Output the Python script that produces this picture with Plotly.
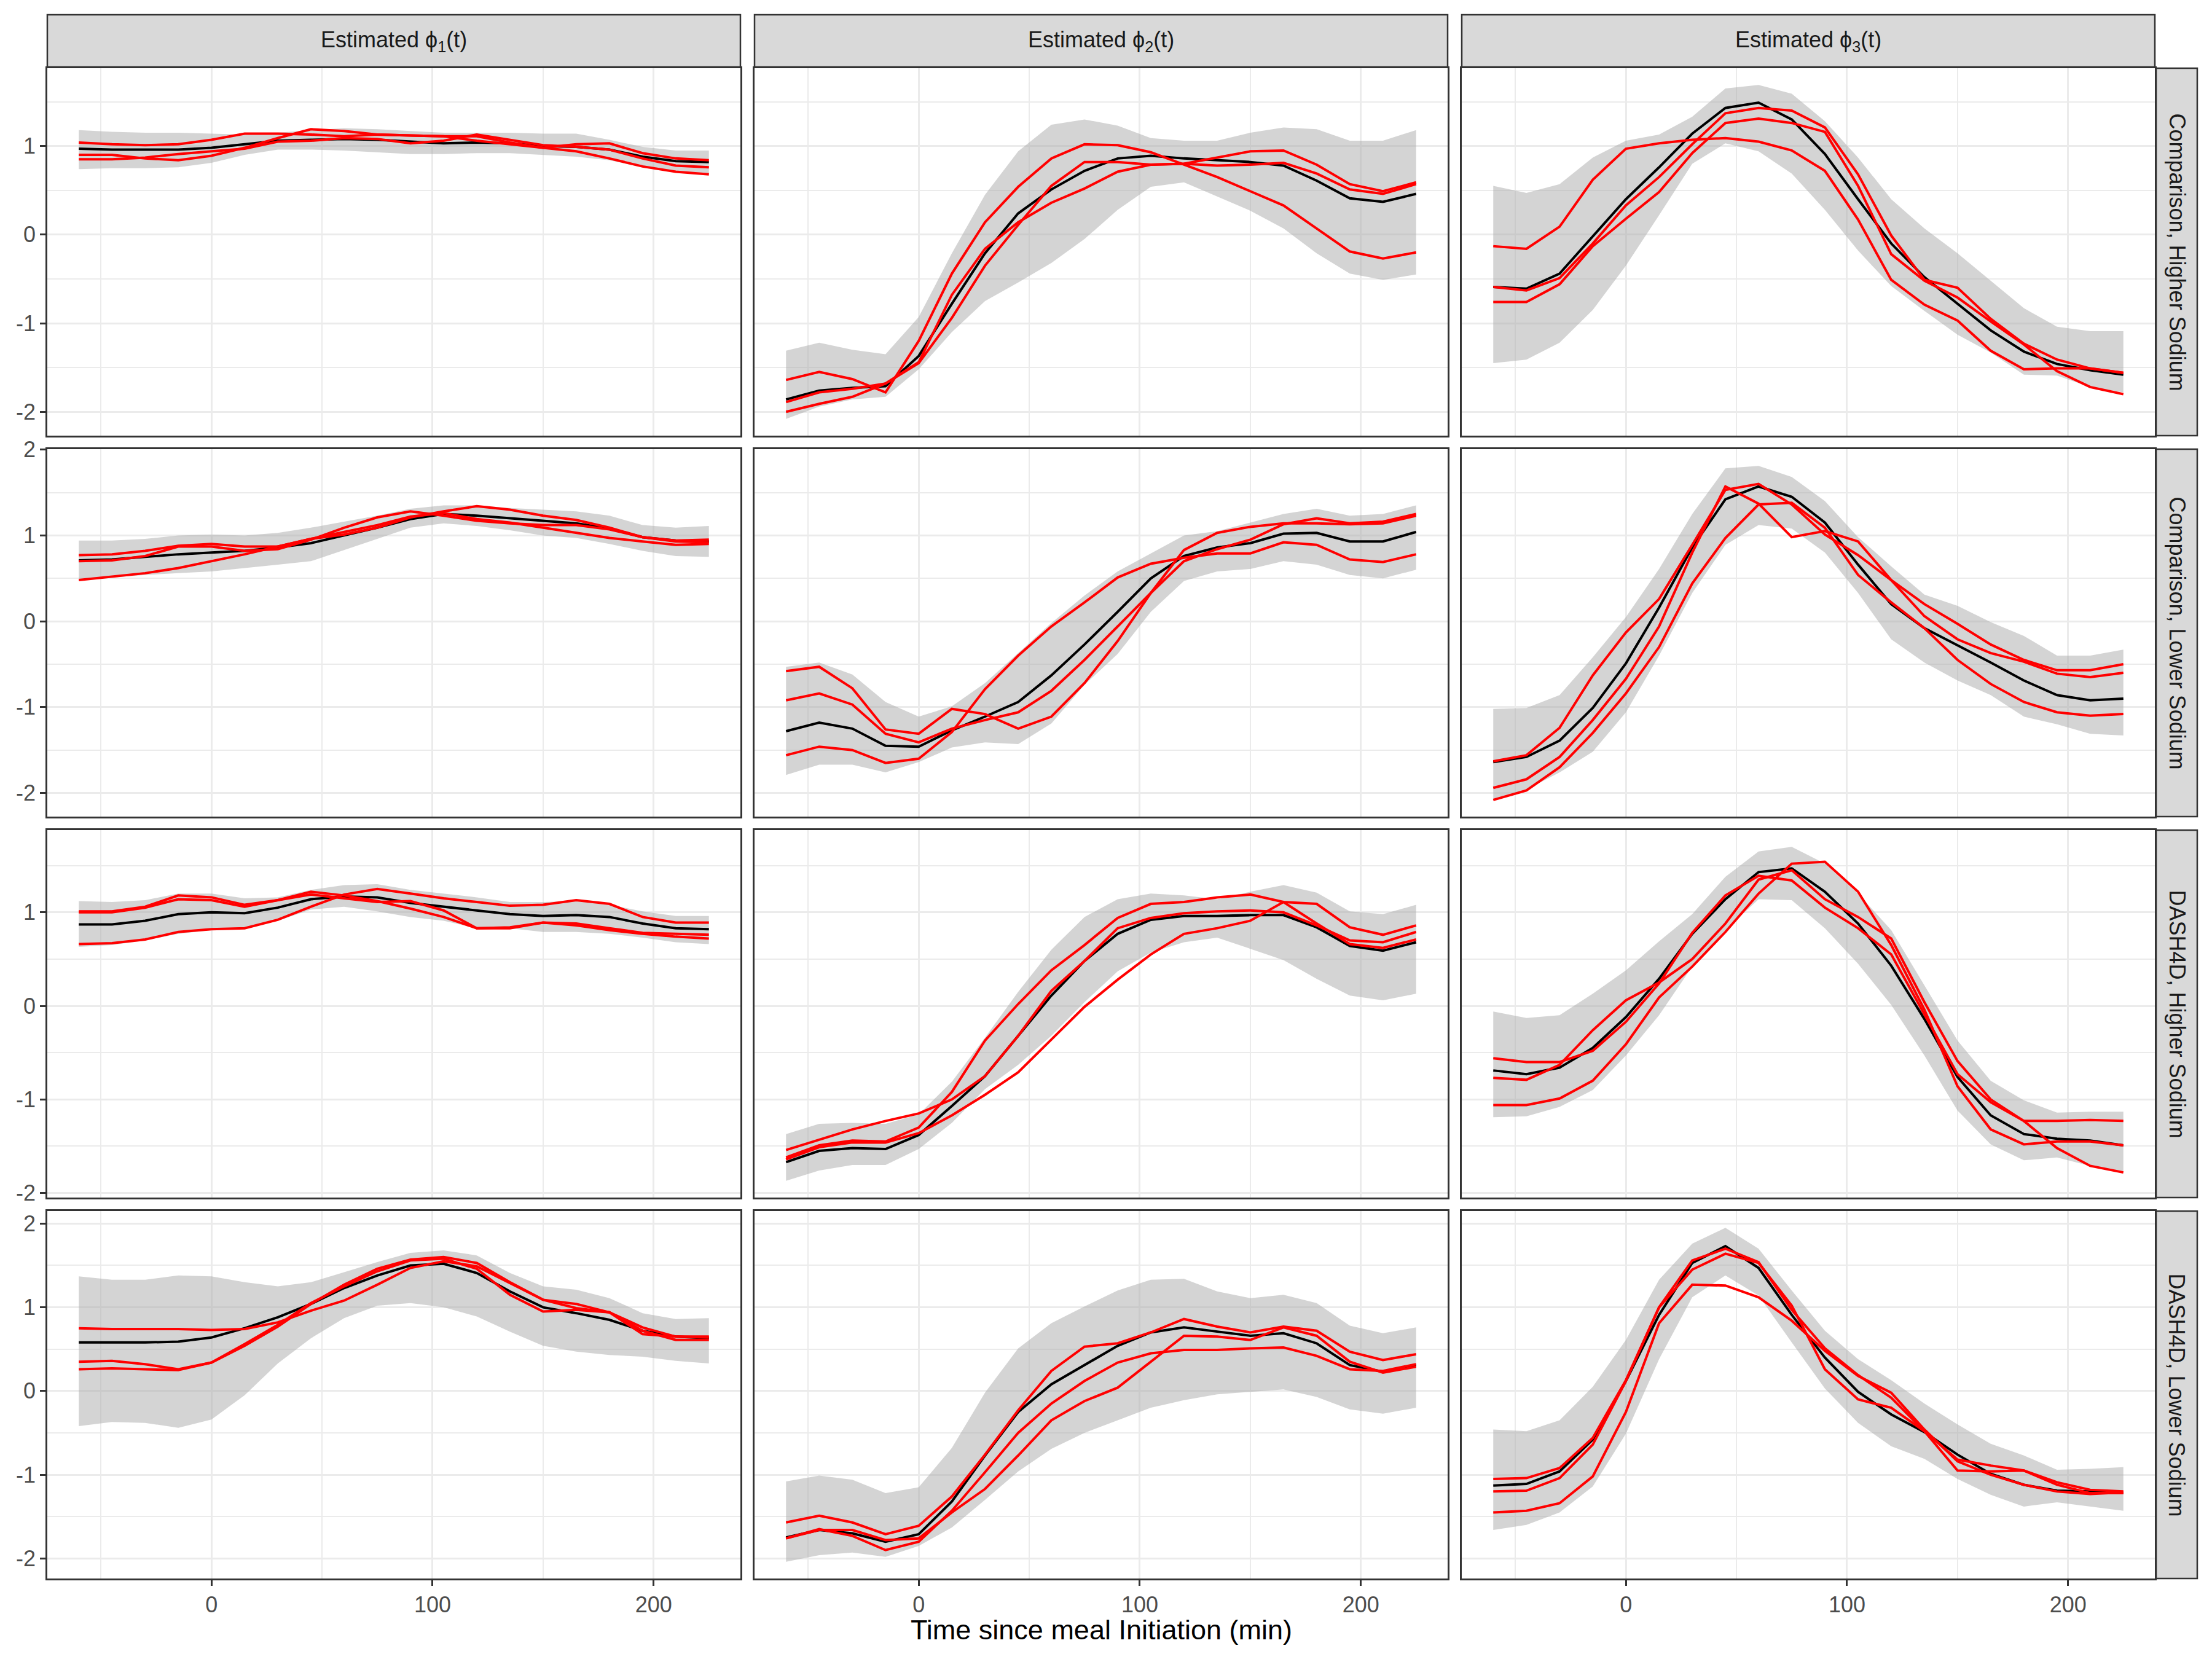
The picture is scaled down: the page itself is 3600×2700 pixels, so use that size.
import plotly.graph_objects as go

# ---------------- data ----------------
times = [-60, -45, -30, -15, 0, 15, 30, 45, 60, 75, 90, 105, 120, 135, 150, 165, 180, 195, 210, 225]
col_titles = ["Estimated ϕ<sub>1</sub>(t)", "Estimated ϕ<sub>2</sub>(t)", "Estimated ϕ<sub>3</sub>(t)"]
row_titles = ["Comparison, Higher Sodium", "Comparison, Lower Sodium",
              "DASH4D, Higher Sodium", "DASH4D, Lower Sodium"]
x_ticks = [0, 100, 200]
y_ticks = [-2, -1, 0, 1, 2]
x_title = "Time since meal Initiation (min)"

# Row 1: Comparison, Higher Sodium
r1c1_mean = [0.97,0.96,0.96,0.96,0.98,1.02,1.06,1.07,1.08,1.07,1.05,1.03,1.04,1.03,1.00,0.99,0.96,0.88,0.83,0.82]
r1c1_hi = [1.18,1.16,1.15,1.15,1.14,1.13,1.15,1.18,1.20,1.19,1.17,1.15,1.15,1.15,1.14,1.14,1.07,0.99,0.95,0.95]
r1c1_lo = [0.74,0.75,0.75,0.76,0.81,0.90,0.96,0.96,0.95,0.93,0.91,0.91,0.92,0.92,0.90,0.88,0.84,0.76,0.71,0.68]
r1c1_a = [1.04,1.02,1.01,1.02,1.07,1.14,1.14,1.13,1.11,1.13,1.12,1.11,1.06,1.02,0.98,0.94,0.86,0.77,0.71,0.68]
r1c1_b = [0.90,0.90,0.86,0.84,0.89,0.98,1.09,1.19,1.17,1.13,1.12,1.11,1.11,1.04,0.98,1.02,1.03,0.92,0.86,0.84]
r1c1_c = [0.85,0.85,0.87,0.91,0.94,0.97,1.05,1.06,1.09,1.08,1.03,1.06,1.13,1.07,1.01,0.99,0.96,0.86,0.78,0.76]

r1c2_mean = [-1.86,-1.76,-1.73,-1.71,-1.37,-0.78,-0.21,0.24,0.51,0.72,0.86,0.89,0.86,0.84,0.82,0.78,0.61,0.41,0.37,0.46]
r1c2_hi = [-1.31,-1.22,-1.30,-1.35,-0.93,-0.21,0.45,0.94,1.24,1.30,1.23,1.09,1.06,1.06,1.15,1.21,1.19,1.06,1.06,1.18]
r1c2_lo = [-2.08,-1.94,-1.86,-1.83,-1.52,-1.10,-0.75,-0.54,-0.32,-0.05,0.28,0.54,0.59,0.43,0.27,0.07,-0.21,-0.44,-0.51,-0.45]
r1c2_a = [-1.64,-1.55,-1.63,-1.78,-1.20,-0.44,0.14,0.54,0.86,1.02,1.01,0.93,0.79,0.65,0.49,0.33,0.07,-0.19,-0.27,-0.20]
r1c2_b = [-1.89,-1.78,-1.74,-1.68,-1.45,-0.94,-0.35,0.11,0.55,0.82,0.82,0.79,0.80,0.78,0.79,0.81,0.69,0.51,0.46,0.57]
r1c2_c = [-2.00,-1.91,-1.83,-1.68,-1.44,-0.68,-0.16,0.14,0.36,0.52,0.71,0.79,0.80,0.87,0.94,0.95,0.79,0.57,0.49,0.59]

r1c3_mean = [-0.59,-0.61,-0.44,-0.02,0.40,0.76,1.14,1.43,1.49,1.30,0.91,0.40,-0.10,-0.48,-0.78,-1.08,-1.32,-1.46,-1.53,-1.58]
r1c3_hi = [0.55,0.47,0.57,0.87,1.06,1.13,1.33,1.65,1.69,1.59,1.28,0.87,0.40,0.07,-0.21,-0.52,-0.83,-1.04,-1.09,-1.09]
r1c3_lo = [-1.45,-1.41,-1.22,-0.85,-0.35,0.22,0.80,1.03,0.94,0.69,0.28,-0.18,-0.58,-0.86,-1.13,-1.33,-1.58,-1.59,-1.72,-1.78]
r1c3_a = [-0.13,-0.16,0.09,0.62,0.97,1.03,1.07,1.09,1.05,0.95,0.72,0.17,-0.51,-0.79,-0.97,-1.31,-1.52,-1.51,-1.51,-1.56]
r1c3_b = [-0.59,-0.63,-0.49,-0.10,0.33,0.65,1.02,1.37,1.43,1.40,1.21,0.68,-0.01,-0.51,-0.60,-0.95,-1.23,-1.41,-1.51,-1.56]
r1c3_c = [-0.76,-0.76,-0.56,-0.13,0.18,0.48,0.92,1.26,1.31,1.26,1.16,0.55,-0.22,-0.52,-0.71,-0.98,-1.24,-1.54,-1.72,-1.80]

# Row 2: Comparison, Lower Sodium
r2c1_mean = [0.71,0.72,0.75,0.78,0.80,0.82,0.86,0.91,1.00,1.09,1.19,1.25,1.23,1.20,1.17,1.14,1.08,0.98,0.94,0.93]
r2c1_hi = [0.94,0.94,0.96,1.00,1.01,1.00,1.03,1.09,1.16,1.23,1.31,1.35,1.35,1.32,1.30,1.28,1.23,1.12,1.09,1.11]
r2c1_lo = [0.49,0.51,0.54,0.56,0.58,0.62,0.66,0.70,0.83,0.96,1.09,1.14,1.11,1.06,1.00,0.97,0.90,0.82,0.76,0.75]
r2c1_a = [0.77,0.78,0.82,0.88,0.90,0.87,0.87,0.96,1.01,1.09,1.21,1.28,1.34,1.30,1.23,1.18,1.09,0.98,0.94,0.95]
r2c1_b = [0.70,0.71,0.76,0.87,0.87,0.82,0.84,0.95,1.09,1.21,1.28,1.23,1.17,1.14,1.12,1.12,1.07,0.98,0.93,0.92]
r2c1_c = [0.48,0.52,0.56,0.62,0.70,0.78,0.87,0.96,1.04,1.12,1.22,1.26,1.19,1.15,1.09,1.03,0.97,0.93,0.89,0.90]

r2c2_mean = [-1.28,-1.18,-1.25,-1.45,-1.46,-1.27,-1.11,-0.94,-0.63,-0.27,0.11,0.50,0.76,0.86,0.91,1.02,1.03,0.93,0.93,1.04]
r2c2_hi = [-0.53,-0.48,-0.62,-0.94,-1.11,-0.99,-0.72,-0.37,-0.02,0.30,0.58,0.79,1.00,1.05,1.15,1.25,1.31,1.23,1.25,1.35]
r2c2_lo = [-1.79,-1.67,-1.67,-1.76,-1.64,-1.47,-1.41,-1.43,-1.19,-0.74,-0.38,0.11,0.47,0.58,0.61,0.70,0.66,0.54,0.50,0.60]
r2c2_a = [-0.58,-0.53,-0.78,-1.26,-1.31,-1.02,-1.08,-1.25,-1.11,-0.72,-0.23,0.33,0.83,1.03,1.10,1.14,1.14,1.13,1.14,1.23]
r2c2_b = [-0.92,-0.84,-0.97,-1.31,-1.41,-1.25,-1.15,-1.06,-0.81,-0.45,-0.06,0.33,0.70,0.84,0.95,1.13,1.20,1.14,1.16,1.25]
r2c2_c = [-1.56,-1.46,-1.50,-1.65,-1.60,-1.29,-0.79,-0.40,-0.06,0.22,0.51,0.67,0.74,0.79,0.79,0.92,0.89,0.72,0.69,0.78]

r2c3_mean = [-1.64,-1.58,-1.39,-1.01,-0.49,0.16,0.86,1.42,1.57,1.45,1.15,0.66,0.20,-0.08,-0.28,-0.48,-0.69,-0.86,-0.92,-0.90]
r2c3_hi = [-1.02,-1.01,-0.86,-0.42,0.05,0.61,1.25,1.78,1.81,1.68,1.40,0.98,0.64,0.31,0.18,-0.01,-0.17,-0.40,-0.40,-0.33]
r2c3_lo = [-2.07,-1.96,-1.76,-1.52,-1.06,-0.40,0.33,0.89,1.12,1.08,0.80,0.33,-0.21,-0.48,-0.69,-0.86,-1.11,-1.20,-1.31,-1.33]
r2c3_a = [-1.63,-1.56,-1.24,-0.63,-0.13,0.26,0.89,1.53,1.60,1.36,1.01,0.77,0.48,0.20,-0.03,-0.27,-0.45,-0.57,-0.57,-0.50]
r2c3_b = [-1.94,-1.84,-1.58,-1.15,-0.67,-0.06,0.80,1.57,1.37,0.98,1.05,0.93,0.48,0.06,-0.21,-0.37,-0.47,-0.61,-0.65,-0.60]
r2c3_c = [-2.08,-1.97,-1.70,-1.30,-0.84,-0.30,0.44,0.97,1.36,1.38,1.09,0.54,0.22,-0.08,-0.45,-0.73,-0.94,-1.06,-1.10,-1.08]

# Row 3: DASH4D, Higher Sodium
r3c1_mean = [0.87,0.87,0.91,0.98,1.00,0.99,1.05,1.14,1.17,1.16,1.10,1.06,1.02,0.98,0.96,0.97,0.95,0.88,0.83,0.82]
r3c1_hi = [1.12,1.11,1.13,1.20,1.20,1.15,1.16,1.24,1.29,1.30,1.24,1.20,1.16,1.11,1.11,1.12,1.08,1.01,0.96,0.96]
r3c1_lo = [0.63,0.65,0.70,0.77,0.81,0.83,0.91,1.03,1.06,1.01,0.95,0.91,0.83,0.83,0.79,0.79,0.77,0.73,0.68,0.66]
r3c1_a = [1.01,1.01,1.06,1.18,1.16,1.08,1.13,1.22,1.18,1.12,1.04,0.95,0.83,0.83,0.89,0.88,0.83,0.78,0.77,0.76]
r3c1_b = [1.00,1.00,1.05,1.14,1.13,1.06,1.13,1.19,1.15,1.11,1.12,1.02,0.83,0.84,0.89,0.86,0.81,0.77,0.74,0.72]
r3c1_c = [0.66,0.67,0.71,0.79,0.82,0.83,0.92,1.06,1.19,1.25,1.20,1.15,1.11,1.07,1.08,1.13,1.09,0.95,0.89,0.89]

r3c2_mean = [-1.67,-1.55,-1.52,-1.53,-1.38,-1.07,-0.75,-0.32,0.11,0.48,0.77,0.92,0.96,0.96,0.97,0.97,0.84,0.64,0.59,0.68]
r3c2_hi = [-1.37,-1.26,-1.25,-1.26,-1.16,-0.81,-0.34,0.15,0.60,0.95,1.14,1.20,1.18,1.14,1.22,1.29,1.21,1.01,0.98,1.08]
r3c2_lo = [-1.87,-1.76,-1.70,-1.70,-1.53,-1.25,-0.89,-0.63,-0.32,0.04,0.37,0.57,0.68,0.73,0.61,0.49,0.29,0.11,0.06,0.13]
r3c2_a = [-1.54,-1.43,-1.32,-1.23,-1.15,-1.00,-0.75,-0.32,0.16,0.48,0.83,0.94,0.99,1.01,1.02,1.00,0.86,0.70,0.68,0.79]
r3c2_b = [-1.62,-1.49,-1.44,-1.45,-1.30,-0.92,-0.37,0.02,0.38,0.65,0.94,1.09,1.11,1.16,1.19,1.11,1.09,0.84,0.76,0.86]
r3c2_c = [-1.64,-1.51,-1.46,-1.46,-1.36,-1.17,-0.95,-0.71,-0.36,-0.01,0.28,0.55,0.77,0.83,0.91,1.11,0.88,0.66,0.62,0.71]

r3c3_mean = [-0.69,-0.73,-0.66,-0.45,-0.12,0.29,0.77,1.14,1.43,1.47,1.22,0.88,0.43,-0.14,-0.76,-1.17,-1.37,-1.42,-1.44,-1.49]
r3c3_hi = [-0.06,-0.13,-0.10,0.13,0.38,0.69,0.98,1.38,1.65,1.70,1.52,1.20,0.81,0.22,-0.37,-0.80,-1.01,-1.14,-1.13,-1.13]
r3c3_lo = [-1.19,-1.18,-1.08,-0.90,-0.53,-0.10,0.42,0.81,1.14,1.13,0.83,0.45,0.01,-0.53,-1.12,-1.48,-1.65,-1.62,-1.71,-1.78]
r3c3_a = [-0.56,-0.60,-0.60,-0.48,-0.17,0.24,0.78,1.18,1.39,1.34,1.05,0.83,0.55,-0.09,-0.73,-1.03,-1.23,-1.52,-1.71,-1.78]
r3c3_b = [-0.77,-0.79,-0.63,-0.26,0.06,0.25,0.50,0.88,1.35,1.45,1.14,0.95,0.72,0.04,-0.59,-1.00,-1.23,-1.23,-1.22,-1.23]
r3c3_c = [-1.06,-1.06,-0.99,-0.80,-0.41,0.09,0.42,0.79,1.20,1.52,1.54,1.22,0.65,-0.04,-0.86,-1.32,-1.48,-1.45,-1.45,-1.49]

# Row 4: DASH4D, Lower Sodium
r4c1_mean = [0.58,0.58,0.58,0.59,0.64,0.75,0.88,1.04,1.23,1.38,1.50,1.52,1.41,1.19,1.00,0.93,0.85,0.72,0.65,0.63]
r4c1_hi = [1.37,1.33,1.33,1.38,1.37,1.30,1.25,1.30,1.42,1.54,1.65,1.68,1.62,1.41,1.25,1.21,1.11,0.93,0.86,0.87]
r4c1_lo = [-0.42,-0.37,-0.38,-0.44,-0.34,-0.05,0.33,0.63,0.87,1.02,1.05,1.00,0.89,0.71,0.54,0.47,0.43,0.41,0.36,0.33]
r4c1_a = [0.75,0.74,0.74,0.74,0.73,0.74,0.82,0.96,1.08,1.27,1.47,1.55,1.49,1.29,1.09,1.04,0.94,0.76,0.65,0.64]
r4c1_b = [0.35,0.36,0.32,0.26,0.34,0.54,0.77,1.04,1.27,1.46,1.57,1.60,1.53,1.30,1.09,0.99,0.94,0.72,0.61,0.61]
r4c1_c = [0.26,0.27,0.26,0.25,0.34,0.56,0.79,1.05,1.25,1.43,1.56,1.58,1.46,1.15,0.95,0.97,0.94,0.68,0.65,0.65]

r4c2_mean = [-1.75,-1.66,-1.70,-1.80,-1.71,-1.32,-0.77,-0.25,0.08,0.31,0.54,0.70,0.76,0.71,0.66,0.69,0.57,0.31,0.23,0.31]
r4c2_hi = [-1.08,-1.01,-1.06,-1.22,-1.15,-0.68,-0.02,0.51,0.81,1.01,1.20,1.33,1.34,1.19,1.11,1.15,1.05,0.78,0.69,0.76]
r4c2_lo = [-2.04,-1.96,-1.93,-1.98,-1.85,-1.63,-1.30,-0.96,-0.69,-0.50,-0.35,-0.20,-0.11,-0.04,-0.01,0.02,-0.07,-0.22,-0.27,-0.20]
r4c2_a = [-1.57,-1.49,-1.57,-1.71,-1.61,-1.26,-0.76,-0.23,0.24,0.53,0.57,0.70,0.86,0.77,0.70,0.77,0.72,0.47,0.37,0.44]
r4c2_b = [-1.76,-1.65,-1.73,-1.90,-1.80,-1.43,-0.97,-0.50,-0.15,0.12,0.34,0.45,0.49,0.49,0.51,0.52,0.42,0.26,0.24,0.32]
r4c2_c = [-1.76,-1.66,-1.66,-1.78,-1.76,-1.45,-1.17,-0.77,-0.35,-0.12,0.04,0.35,0.66,0.65,0.61,0.76,0.66,0.35,0.22,0.29]

r4c3_mean = [-1.13,-1.11,-0.96,-0.58,0.12,0.91,1.53,1.73,1.47,0.91,0.40,-0.01,-0.28,-0.49,-0.76,-0.99,-1.12,-1.19,-1.20,-1.22]
r4c3_hi = [-0.46,-0.48,-0.35,0.05,0.61,1.33,1.76,1.95,1.70,1.20,0.72,0.38,0.13,-0.15,-0.40,-0.63,-0.77,-0.94,-0.93,-0.91]
r4c3_lo = [-1.66,-1.60,-1.45,-1.14,-0.51,0.38,1.12,1.38,1.14,0.58,0.03,-0.38,-0.66,-0.81,-1.05,-1.24,-1.38,-1.33,-1.38,-1.43]
r4c3_a = [-1.05,-1.04,-0.92,-0.56,0.13,1.00,1.56,1.70,1.54,0.97,0.51,0.19,-0.08,-0.48,-0.82,-0.89,-0.95,-1.09,-1.18,-1.20]
r4c3_b = [-1.20,-1.19,-1.04,-0.64,0.12,1.00,1.45,1.64,1.53,1.02,0.26,-0.10,-0.20,-0.48,-0.95,-0.96,-0.95,-1.12,-1.22,-1.22]
r4c3_c = [-1.45,-1.43,-1.34,-1.02,-0.25,0.81,1.27,1.26,1.12,0.84,0.48,0.18,-0.02,-0.46,-0.84,-1.00,-1.12,-1.20,-1.23,-1.21]

panels = [
    [(r1c1_lo, r1c1_hi, r1c1_mean, [r1c1_a, r1c1_b, r1c1_c]),
     (r1c2_lo, r1c2_hi, r1c2_mean, [r1c2_a, r1c2_b, r1c2_c]),
     (r1c3_lo, r1c3_hi, r1c3_mean, [r1c3_a, r1c3_b, r1c3_c])],
    [(r2c1_lo, r2c1_hi, r2c1_mean, [r2c1_a, r2c1_b, r2c1_c]),
     (r2c2_lo, r2c2_hi, r2c2_mean, [r2c2_a, r2c2_b, r2c2_c]),
     (r2c3_lo, r2c3_hi, r2c3_mean, [r2c3_a, r2c3_b, r2c3_c])],
    [(r3c1_lo, r3c1_hi, r3c1_mean, [r3c1_a, r3c1_b, r3c1_c]),
     (r3c2_lo, r3c2_hi, r3c2_mean, [r3c2_a, r3c2_b, r3c2_c]),
     (r3c3_lo, r3c3_hi, r3c3_mean, [r3c3_a, r3c3_b, r3c3_c])],
    [(r4c1_lo, r4c1_hi, r4c1_mean, [r4c1_a, r4c1_b, r4c1_c]),
     (r4c2_lo, r4c2_hi, r4c2_mean, [r4c2_a, r4c2_b, r4c2_c]),
     (r4c3_lo, r4c3_hi, r4c3_mean, [r4c3_a, r4c3_b, r4c3_c])],
]

# ---------------- layout geometry (pixels, page coordinates) ----------------
W, H = 3600, 2700
OFF = 8  # page body margin compensation
col_px = [(77, 1205), (1228, 2356), (2379, 3507)]
row_px = [(111, 709), (731, 1329), (1351, 1949), (1971, 2569)]
strip_top = (24, 109)
strip_right = (3509, 3576)

FONT = "Liberation Sans"
GRID = "#EBEBEB"
BORDER = "#333333"

def px_x(v):
    return (v - OFF) / W

def px_y(v):
    return 1 - (v - OFF) / H

xmin, xmax = min(times), max(times)
xpad = 0.05 * (xmax - xmin)
x_range = [xmin - xpad, xmax + xpad]

fig = go.Figure()
shapes = []
annotations = []

for r in range(4):
    vals = []
    for c in range(3):
        lo, hi, mean, reds = panels[r][c]
        vals += lo + hi + mean + sum(reds, [])
    ymin, ymax = min(vals), max(vals)
    ypad = 0.05 * (ymax - ymin)
    y_range = [ymin - ypad, ymax + ypad]

    for c in range(3):
        k = r * 3 + c + 1
        xa = "x" if k == 1 else f"x{k}"
        ya = "y" if k == 1 else f"y{k}"
        lo, hi, mean, reds = panels[r][c]

        fig.add_trace(go.Scatter(
            x=times + times[::-1], y=hi + lo[::-1], fill="toself",
            fillcolor="rgba(170,170,170,0.5)", line=dict(width=0, color="rgba(0,0,0,0)"),
            mode="lines", hoverinfo="skip", xaxis=xa, yaxis=ya, showlegend=False))
        fig.add_trace(go.Scatter(
            x=times, y=mean, mode="lines", line=dict(color="black", width=4),
            xaxis=xa, yaxis=ya, showlegend=False))
        for red in reds:
            fig.add_trace(go.Scatter(
                x=times, y=red, mode="lines", line=dict(color="#FF0000", width=4),
                xaxis=xa, yaxis=ya, showlegend=False))

        x0, x1 = col_px[c]
        y0, y1 = row_px[r]
        bottom = (r == 3)
        left = (c == 0)
        xaxis = dict(
            domain=[px_x(x0), px_x(x1)], anchor=ya, range=x_range, automargin=False,
            tickmode="array", tickvals=x_ticks, ticktext=[str(t) for t in x_ticks],
            showticklabels=bottom, ticks="outside" if bottom else "",
            ticklen=9, tickwidth=2.5, tickcolor=BORDER,
            tickfont=dict(family=FONT, size=36, color="#4D4D4D"),
            showgrid=True, gridcolor=GRID, gridwidth=3.2,
            minor=dict(tickmode="linear", tick0=0, dtick=50, showgrid=True,
                       gridcolor=GRID, gridwidth=1.6),
            showline=True, linecolor=BORDER, linewidth=2.5, mirror=True,
            zeroline=False,
        )
        yaxis = dict(
            domain=[px_y(y1), px_y(y0)], anchor=xa, range=y_range, automargin=False,
            tickmode="array", tickvals=y_ticks, ticktext=[str(t) for t in y_ticks],
            showticklabels=left, ticks="outside" if left else "",
            ticklen=9, tickwidth=2.5, tickcolor=BORDER,
            tickfont=dict(family=FONT, size=36, color="#4D4D4D"),
            showgrid=True, gridcolor=GRID, gridwidth=3.2,
            minor=dict(tickmode="linear", tick0=0, dtick=0.5, showgrid=True,
                       gridcolor=GRID, gridwidth=1.6),
            showline=True, linecolor=BORDER, linewidth=2.5, mirror=True,
            zeroline=False,
        )
        fig.layout["xaxis" if k == 1 else f"xaxis{k}"] = xaxis
        fig.layout["yaxis" if k == 1 else f"yaxis{k}"] = yaxis

# column strips
for c in range(3):
    x0, x1 = col_px[c]
    shapes.append(dict(type="rect", xref="paper", yref="paper",
                       x0=px_x(x0), x1=px_x(x1), y0=px_y(strip_top[1]), y1=px_y(strip_top[0]),
                       fillcolor="#D9D9D9", line=dict(color=BORDER, width=2.5), layer="above"))
    annotations.append(dict(xref="paper", yref="paper",
                            x=px_x((x0 + x1) / 2), y=px_y((strip_top[0] + strip_top[1]) / 2),
                            text=col_titles[c], showarrow=False, xanchor="center", yanchor="middle",
                            font=dict(family=FONT, size=36, color="#1A1A1A")))

# row strips
for r in range(4):
    y0, y1 = row_px[r]
    shapes.append(dict(type="rect", xref="paper", yref="paper",
                       x0=px_x(strip_right[0]), x1=px_x(strip_right[1]), y0=px_y(y1), y1=px_y(y0),
                       fillcolor="#D9D9D9", line=dict(color=BORDER, width=2.5), layer="above"))
    annotations.append(dict(xref="paper", yref="paper",
                            x=px_x((strip_right[0] + strip_right[1]) / 2), y=px_y((y0 + y1) / 2),
                            text=row_titles[r], textangle=90, showarrow=False,
                            xanchor="center", yanchor="middle",
                            font=dict(family=FONT, size=36, color="#1A1A1A")))

# x-axis title
annotations.append(dict(xref="paper", yref="paper",
                        x=px_x((col_px[0][0] + col_px[2][1]) / 2), y=px_y(2652),
                        text=x_title, showarrow=False, xanchor="center", yanchor="middle",
                        font=dict(family=FONT, size=45, color="black")))

fig.update_layout(
    width=W, height=H, margin=dict(l=0, r=0, t=0, b=0, pad=0, autoexpand=False),
    paper_bgcolor="white", plot_bgcolor="white",
    showlegend=False, shapes=shapes, annotations=annotations,
    font=dict(family=FONT),
)

fig.write_html("out.html")
